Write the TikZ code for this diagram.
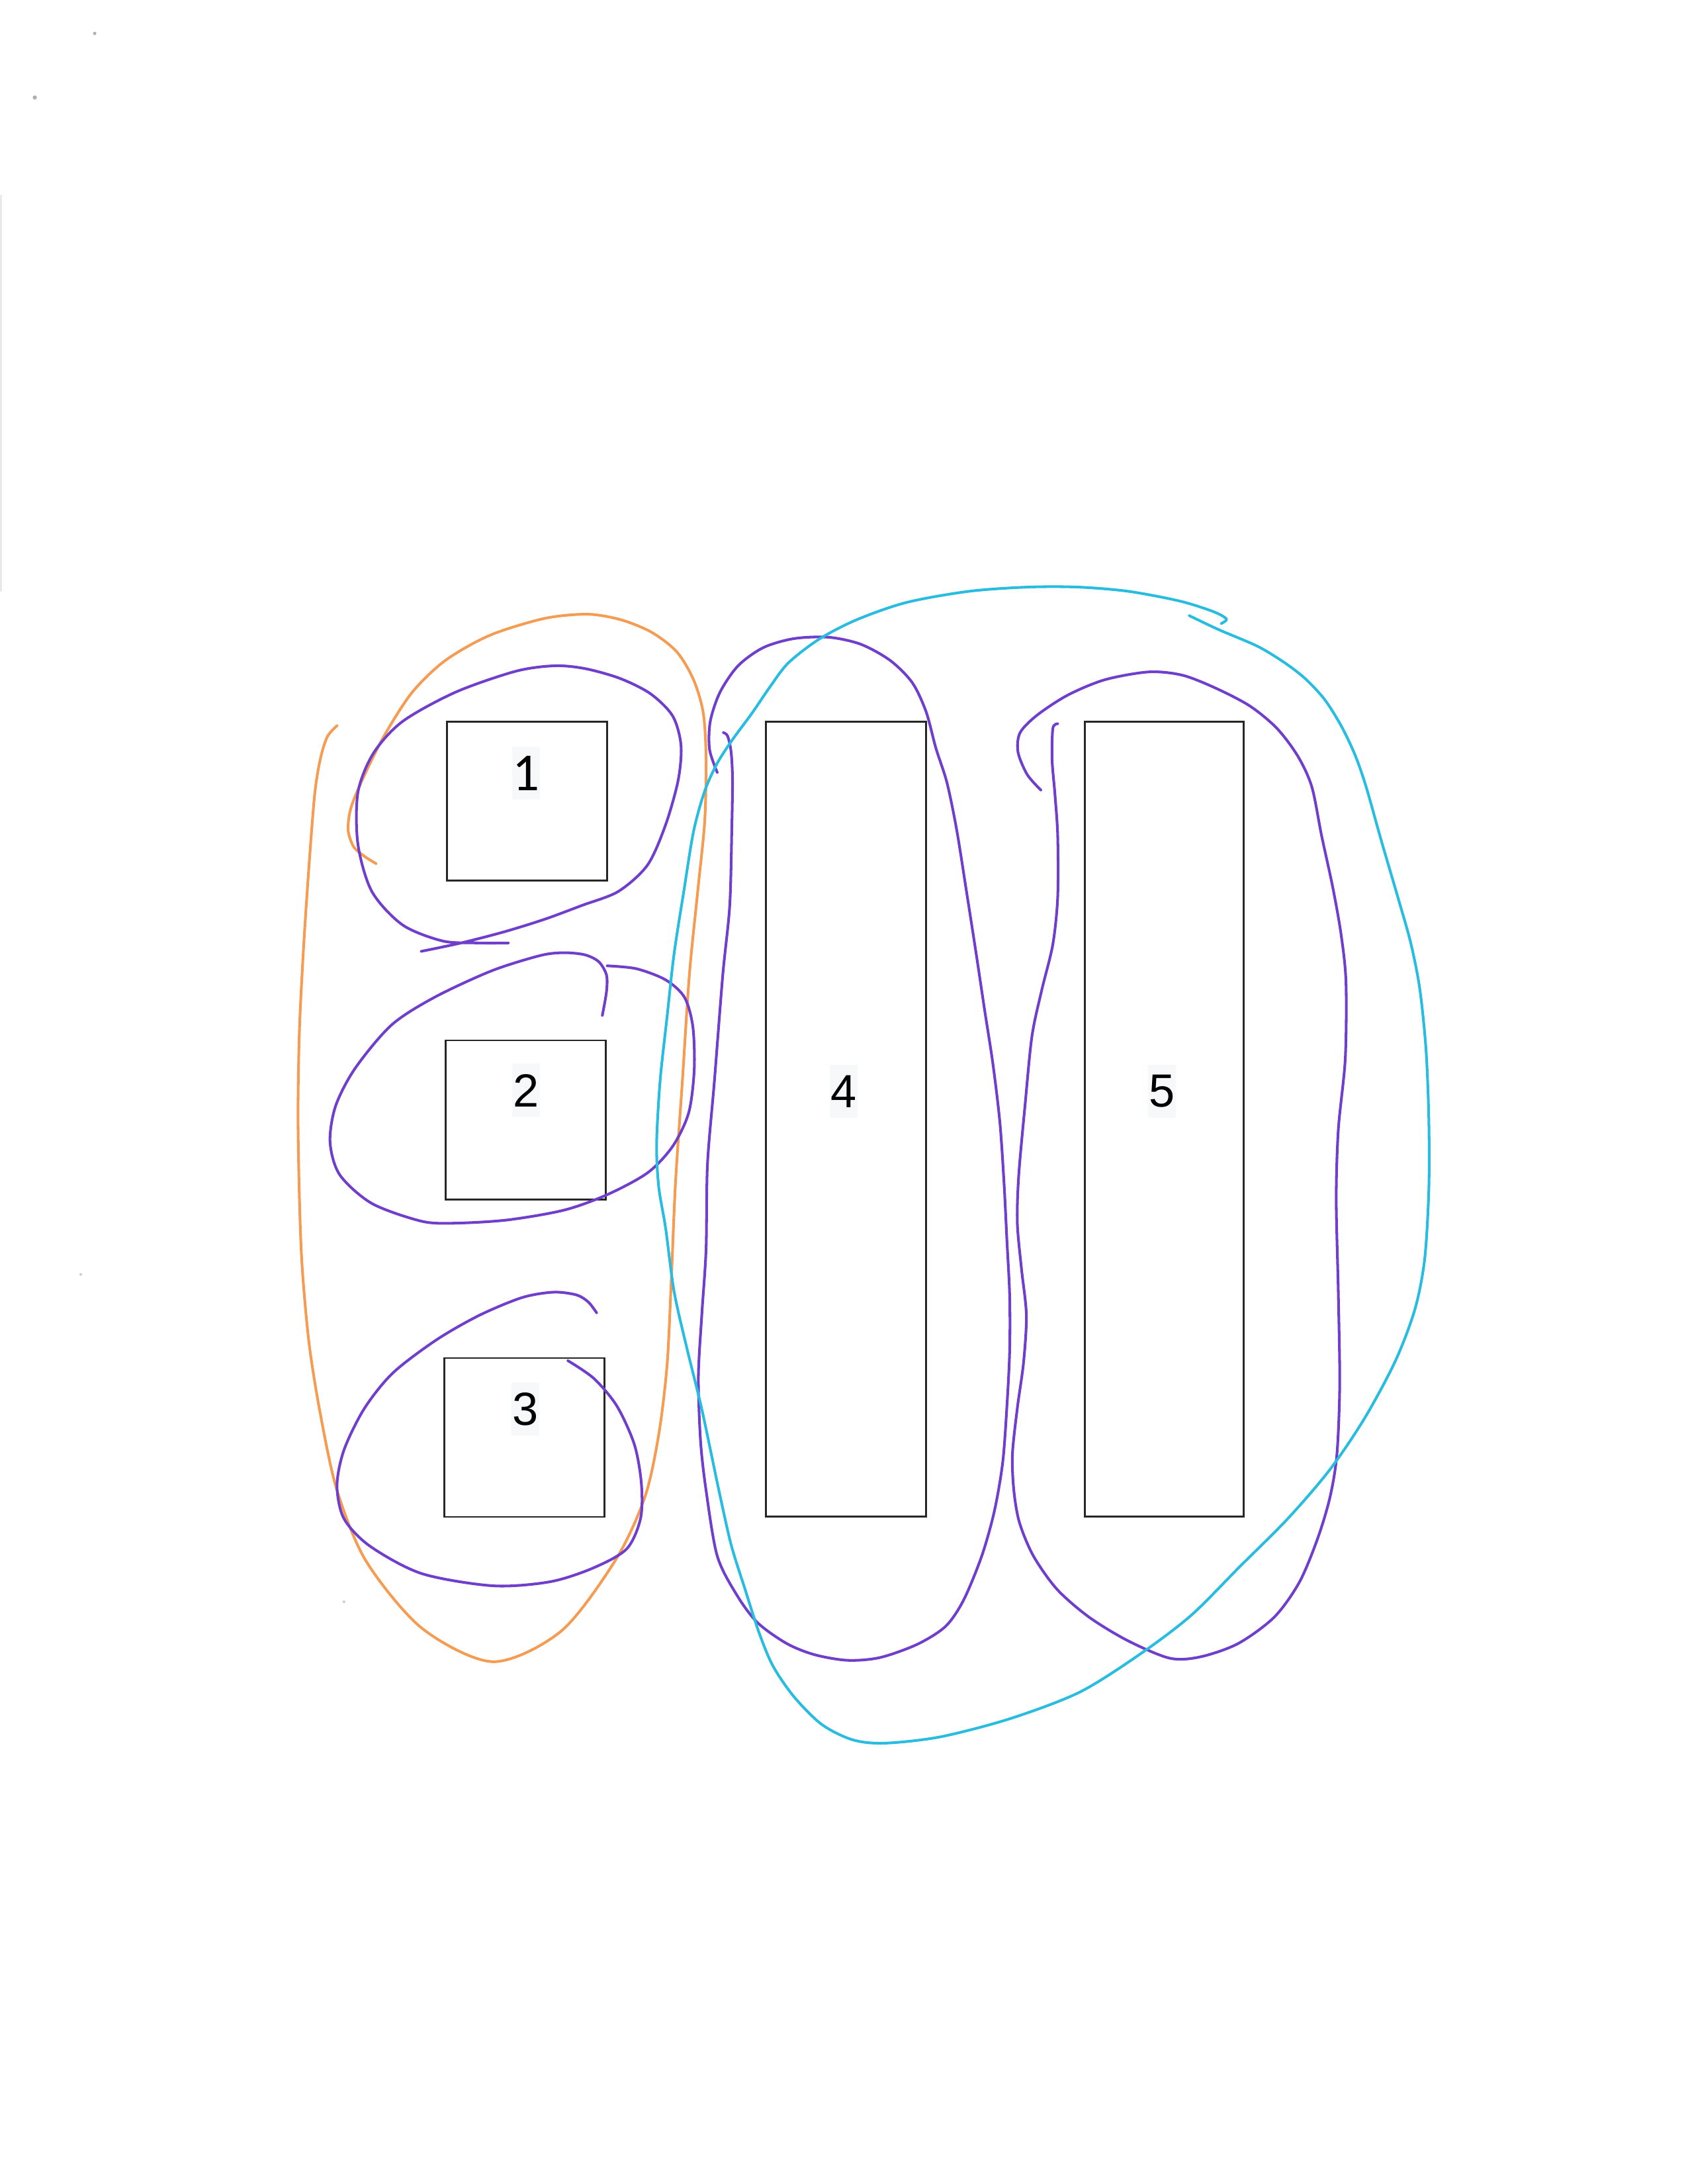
\documentclass[tikz,border=0pt]{standalone}
\usepackage{fontspec}
\setmainfont{Liberation Sans}
\newfontfamily\carlitofont{Carlito}
\definecolor{purp}{RGB}{112,62,205}
\definecolor{cyanl}{RGB}{40,188,224}
\definecolor{orng}{RGB}{246,156,82}
\definecolor{lblbg}{RGB}{247,248,249}
\definecolor{scan}{RGB}{175,175,175}
\begin{document}
\begin{tikzpicture}[x=0.2104mm,y=-0.2104mm,
  box/.style={draw=black!85, line width=0.8pt, inner sep=0pt, outer sep=0pt},
  lbl/.style={fill=lblbg, inner sep=0pt, minimum width=4.2mm, minimum height=8mm, font=\fontsize{20}{24}\selectfont},
  pen/.style={line width=1.15pt, line cap=round, line join=round},
  purpen/.style={pen, draw=purp},
  cyanpen/.style={pen, draw=cyanl},
  orngpen/.style={pen, draw=orng}]
\useasboundingbox (0,0) rectangle (1212,1568);
\fill[white] (0,0) rectangle (1212,1568);

% scan specks
\fill[scan] (68,24) circle (1.2);
\fill[scan] (25,70) circle (1.5);
\fill[scan!60] (58,915) circle (1);
\fill[scan!60] (247,1150) circle (1);
\draw[scan!70, line width=0.4pt] (0.8,140) -- (0.8,425);

% boxes
\node[box, minimum width=24.2mm, minimum height=24.0mm] (b1) at (378.5,575) {};
\node[box, minimum width=24.2mm, minimum height=24.0mm] (b2) at (377.5,804) {};
\node[box, minimum width=24.2mm, minimum height=24.0mm] (b3) at (376.5,1032) {};
\node[box, minimum width=24.2mm, minimum height=120.1mm] (b4) at (607.5,803.5) {};
\node[box, minimum width=24.0mm, minimum height=120.1mm] (b5) at (836,803.5) {};

% labels
\node[lbl, font=\carlitofont\fontsize{23}{26}\selectfont] (l1) at (377.6,555.1) {1};
\node[lbl] (l2) at (377.6,782.8) {2};
\node[lbl] (l3) at (377.4,1011.7) {3};
\node[lbl] (l4) at (605.7,783.6) {4};
\node[lbl] (l5) at (834.2,783.4) {5};

% orange loop around 1-3
\draw[orngpen] plot[smooth] coordinates {
 (242,521) (235,529) (230,545) (226,570) (222,620) (218,680) (215,740) (214,800)
 (215,860) (217,910) (222,965) (230,1015) (242,1070) (263,1121) (303,1169) (354,1193)
 (403,1171) (442,1120) (463,1075) (473,1030) (479,980) (482,920) (485,850) (490,776)
 (495,700) (501,640) (506,590) (507,545) (505,512) (498,488) (486,468) (468,454)
 (446,445) (422,441) (391,444) (352,456) (320,474) (296,497) (276,528)
 (261,558) (252,580) (250,596) (254,608) (262,615) (270,620)};

% purple loop 1
\draw[purpen] plot[smooth] coordinates {
 (302.5,683) (331,677) (362,669) (391,660) (418,650) (444,640) (465,621) (478,592)
 (487,560) (489,535) (483,514) (467,498) (445,487) (420,480) (398,478)
 (370,482) (327,497) (289,518) (268,541) (257,569) (257,606) (267,640) (289,664)
 (318,675.6) (344,677) (365,677)};

% purple loop 2
\draw[purpen] plot[smooth] coordinates {
 (432.5,729) (435.5,712) (435.5,700) (430,690.5) (420,685.5) (405,684) (388,686)
 (353,697) (312,716) (281,736) (255,767) (241,794) (237,820)
 (244,843.5) (267,864) (302,876.6) (325,878.2) (364,875.9) (405,868.8)
 (436,857.7) (465,842) (483,823) (494.5,799) (498.5,768) (497.5,737)
 (491.5,716) (478,703.5) (457,695.5) (436,693.4)};

% purple loop 3
\draw[purpen] plot[smooth] coordinates {
 (428.4,942.5) (422.5,934.8) (414,929.7) (397.5,927.7) (374.8,931.6) (344,944.4)
 (313,962.2) (282,985.8) (261.5,1011.4) (247,1041) (242,1066.6) (247,1090.3)
 (265.6,1110) (302.7,1129.7) (354,1138.5) (395,1135.6) (426,1125.7) (450,1112)
 (460,1090) (460.5,1064.6) (455.5,1037) (443,1009.5) (426.5,989.7) (407.8,976.9)};

% purple loop 4
\draw[purpen] plot[smooth] coordinates {
 (519.5,526) (522.5,528.5) (525,540) (526,560) (525.5,594) (524,650)
 (519,700) (513,776) (508,836) (507,897) (504,943) (501.5,988)
 (503,1034) (507,1070) (515,1117) (529,1145) (544,1165) (565,1180)
 (585,1188) (608.7,1192) (632,1190) (658.7,1180.5) (679,1167.6) (692,1148.6)
 (705,1117) (714,1085) (720,1050) (723,1010) (725,970) (725,930) (723,890)
 (721,850) (718,806) (713,764) (707,725) (701,685) (694,640) (687,596)
 (680,562) (672,537) (665,511) (655,490) (639,474) (618,462.5) (595,457.5)
 (570,458.5) (548,465) (530,478) (517,497) (510,518) (509.5,538) (515,554.5)};

% purple loop 5
\draw[purpen] plot[smooth] coordinates {
 (747.4,567.2) (737.6,556.1) (731,540) (732.5,526) (744.9,513.3) (766.8,499)
 (793.4,488) (825,482.4) (849.2,484.8) (873.5,494.3) (897.7,507) (917,523)
 (932,543) (942,565) (949,600) (957,637) (963,671) (966.5,705) (966,760)
 (961,811) (959.5,861) (961,928) (962,994) (960,1044) (955,1075) (946,1105)
 (933,1136) (915,1161) (889,1180) (862,1189.5) (840,1190.5) (810,1178)
 (782,1161) (759,1141) (742,1117) (732,1093) (728,1070) (727,1044)
 (730.5,1011) (735,978) (737,944) (733.5,911) (730.5,878) (731.5,844)
 (736,794) (741,744) (748,711) (756,678) (759.5,644) (759.5,600)
 (757.5,570) (755.5,546) (756,523) (759.5,519.6)};

% cyan loop around 4-5
\draw[cyanpen] plot[smooth] coordinates {
 (854,442) (875,452) (903,464) (922,475.5) (937,487) (951,502) (963,521)
 (973,542) (981,565) (992,604) (1004,645) (1013,677) (1019.5,710) (1024,754)
 (1026,804) (1026,854) (1023,904) (1016,940) (1002,977) (980,1018)
 (955,1055) (925,1090) (890,1125) (855,1160) (818,1188) (775,1215)
 (725,1234) (675,1247) (635,1251.5) (612,1249) (590,1238) (570,1218)
 (555,1196) (545,1172) (535,1141) (525,1109) (516,1069) (504,1012)
 (493,967) (484,927) (478,882) (473,852) (471.5,821) (474,776) (479,730)
 (484,685) (491,640) (498,597) (506,568) (515,548) (526,531) (540,512)
 (553,493) (566,476) (588,459) (615,445) (651,432.5) (696,424.5)
 (738,421.5) (774,421.5) (810,424.5) (847,431.5) (871,439) (880.7,444.4) (877,447.6)};
\end{tikzpicture}
\end{document}
